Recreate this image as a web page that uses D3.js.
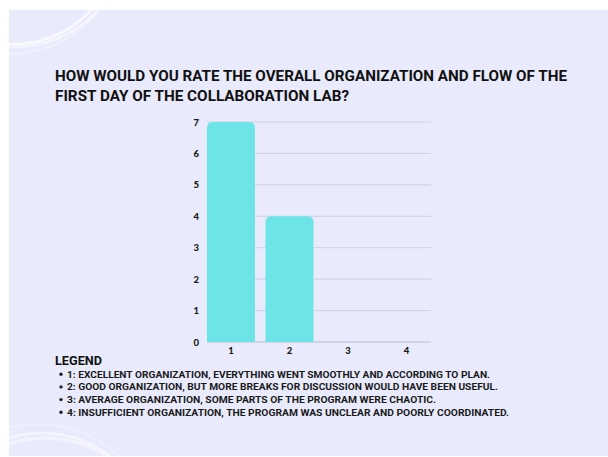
<!DOCTYPE html>
<html>
<head>
<meta charset="utf-8">
<script src="https://cdn.jsdelivr.net/npm/d3@7"></script>
<style>
  html, body { margin: 0; padding: 0; background: #ffffff; }
  svg { display: block; }
</style>
</head>
<body>
<svg id="chart" width="608" height="457"></svg>
<script>
const titleLines = [
  "HOW WOULD YOU RATE THE OVERALL ORGANIZATION AND FLOW OF THE",
  "FIRST DAY OF THE COLLABORATION LAB?"
];
const categories = ["1", "2", "3", "4"];
const values = [7, 4, 0, 0];
const yTicks = [0, 1, 2, 3, 4, 5, 6, 7];
const legendTitle = "LEGEND";
const legendItems = [
  "1: EXCELLENT ORGANIZATION, EVERYTHING WENT SMOOTHLY AND ACCORDING TO PLAN.",
  "2: GOOD ORGANIZATION, BUT MORE BREAKS FOR DISCUSSION WOULD HAVE BEEN USEFUL.",
  "3: AVERAGE ORGANIZATION, SOME PARTS OF THE PROGRAM WERE CHAOTIC.",
  "4: INSUFFICIENT ORGANIZATION, THE PROGRAM WAS UNCLEAR AND POORLY COORDINATED."
];

const svg = d3.select("#chart");

// background panel
svg.append("rect").attr("x", 9).attr("y", 10).attr("width", 599).attr("height", 446)
  .attr("fill", "#E9EBFC");

// decorative arcs
const clip = svg.append("clipPath").attr("id", "pclip");
clip.append("rect").attr("x", 9).attr("y", 10).attr("width", 599).attr("height", 446);
const deco = svg.append("g").attr("fill", "none").attr("stroke", "#ffffff").attr("clip-path", "url(#pclip)");
[[14, -60, 104, 0.7, 2.5], [18, -62, 108, 0.45, 3.5], [10, -58, 112, 0.35, 1.5]].forEach(a => {
  deco.append("circle").attr("cx", a[0]).attr("cy", a[1]).attr("r", a[2])
    .attr("stroke-opacity", a[3]).attr("stroke-width", a[4]);
});
[[42, 545, 112, 0.6, 2.5], [46, 548, 110, 0.4, 3.5], [38, 542, 118, 0.3, 1.5]].forEach(a => {
  deco.append("circle").attr("cx", a[0]).attr("cy", a[1]).attr("r", a[2])
    .attr("stroke-opacity", a[3]).attr("stroke-width", a[4]);
});

// title
const titleWidths = [512, 294];
svg.append("g").selectAll("text").data(titleLines).join("text")
  .attr("x", 55).attr("y", (d, i) => 81 + i * 20)
  .attr("font-family", "Roboto, 'Liberation Sans', sans-serif")
  .attr("font-weight", 700).attr("font-size", 14.5).attr("fill", "#111111")
  .attr("textLength", (d, i) => titleWidths[i]).attr("lengthAdjust", "spacingAndGlyphs")
  .text(d => d);

// scales
const x = d3.scaleBand().domain(categories).range([207, 430.5]).paddingInner(0.18).paddingOuter(0);
const y = d3.scaleLinear().domain([0, 7]).range([342, 122]);

// gridlines
svg.append("g").selectAll("line").data(yTicks).join("line")
  .attr("x1", 207).attr("x2", 431)
  .attr("y1", d => y(d)).attr("y2", d => y(d))
  .attr("stroke", d => d === 0 ? "#B9BCCF" : "#CDD0E3").attr("stroke-width", 1);

// bars with rounded top corners
const r = 6;
svg.append("g").selectAll("path").data(values.map((v, i) => ({ c: categories[i], v })).filter(d => d.v > 0))
  .join("path")
  .attr("fill", "#6DE5E8")
  .attr("d", d => {
    const x0 = x(d.c), x1 = x0 + x.bandwidth(), y0 = y(d.v), yb = y(0);
    return `M${x0},${yb}V${y0 + r}Q${x0},${y0} ${x0 + r},${y0}H${x1 - r}Q${x1},${y0} ${x1},${y0 + r}V${yb}Z`;
  });

// axes (labels only)
const yAxis = svg.append("g").attr("transform", "translate(199,0)")
  .call(d3.axisLeft(y).tickValues(yTicks).tickSize(0).tickPadding(0).tickFormat(d3.format("d")));
yAxis.select(".domain").remove();
yAxis.selectAll("text").attr("font-family", "Lato, 'DejaVu Sans', sans-serif")
  .attr("font-weight", 900).attr("font-size", 9.5).attr("fill", "#1a1a1a");

const xAxis = svg.append("g").attr("transform", "translate(0,347)")
  .call(d3.axisBottom(x).tickSize(0).tickPadding(0));
xAxis.select(".domain").remove();
xAxis.selectAll("text").attr("font-family", "Lato, 'DejaVu Sans', sans-serif")
  .attr("font-weight", 900).attr("font-size", 9.5).attr("fill", "#1a1a1a");

// legend
svg.append("text").attr("x", 55).attr("y", 365)
  .attr("font-family", "Roboto, 'Liberation Sans', sans-serif")
  .attr("font-weight", 700).attr("font-size", 12.5).attr("fill", "#111111")
  .attr("textLength", 47).attr("lengthAdjust", "spacingAndGlyphs")
  .text(legendTitle);

const legendEnds = [490, 498, 436, 509];
const lg = svg.append("g").selectAll("g").data(legendItems).join("g")
  .attr("transform", (d, i) => `translate(0,${377.5 + i * 12.7})`);
lg.append("circle").attr("cx", 61).attr("cy", -3.3).attr("r", 1.7).attr("fill", "#222");
lg.append("text").attr("x", 67).attr("y", 0)
  .attr("font-family", "Roboto, 'Liberation Sans', sans-serif")
  .attr("font-weight", 700).attr("font-size", 9.5).attr("fill", "#1a1a1a")
  .attr("textLength", (d, i) => legendEnds[i] - 67).attr("lengthAdjust", "spacingAndGlyphs")
  .text(d => d);
</script>
</body>
</html>
